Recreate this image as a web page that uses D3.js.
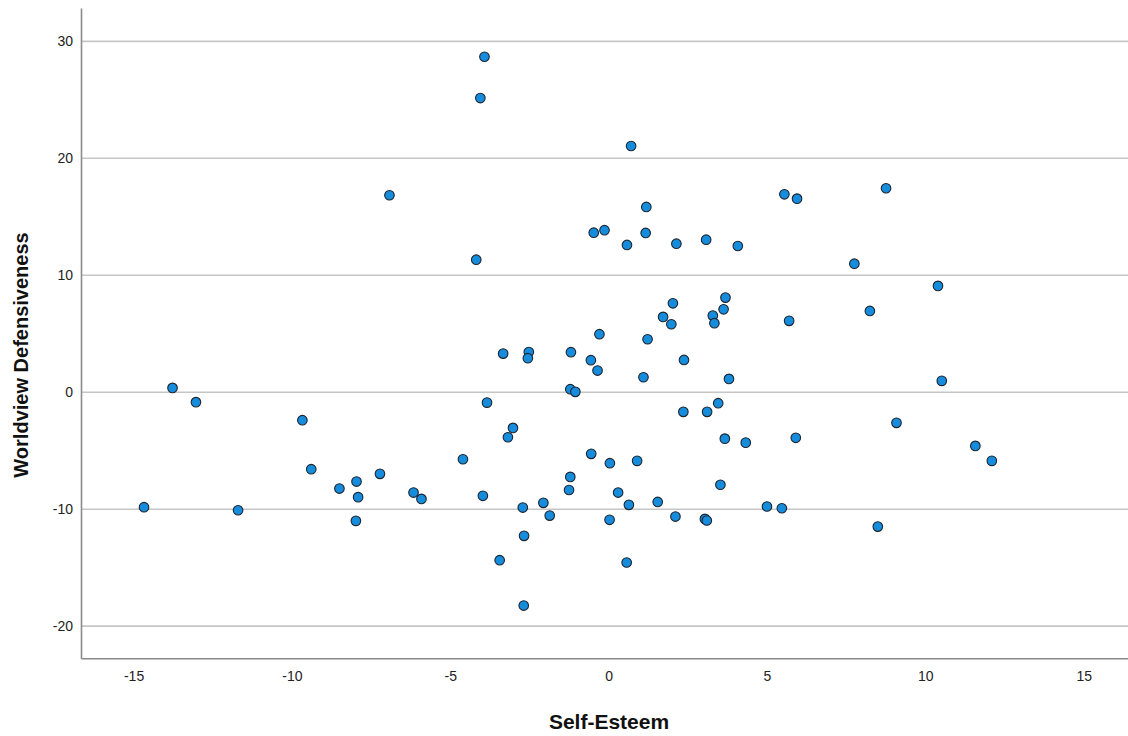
<!DOCTYPE html>
<html>
<head>
<meta charset="utf-8">
<script src="https://cdn.jsdelivr.net/npm/d3@7"></script>
<style>
  html, body { margin: 0; padding: 0; background: #ffffff; }
  svg { display: block; }
  text { font-family: "Liberation Sans", Arial, sans-serif; }
</style>
</head>
<body>
<svg id="chart" width="1128" height="736"></svg>
<script>
// Self-Esteem (x) values
const selfEsteem = [
  -3.92, -4.05, 0.71, -6.92, 5.55, 5.95, 8.76, 1.19, -0.47, -0.13,
  1.17, 0.58, 2.14, 3.08, 4.08, -4.18, 7.76, 10.40, 2.03, 3.69,
  3.63, 1.72, 1.98, 3.29, 3.34, 5.70, 8.25, -0.29, 1.23, -3.33,
  -2.52, -2.55, -1.19, -0.56, -0.35, 2.38, 1.10, 3.80, 10.52, -1.21,
  -1.05, -13.77, -13.03, -3.84, 3.46, 2.36, 3.11, -9.67, 9.09, -3.02,
  -3.18, 3.67, 4.33, 5.91, 11.58, 12.10, -4.60, -0.55, 0.04, 0.90,
  -9.39, -7.22, -7.96, -8.50, -7.91, -1.21, -1.25, 3.53, -6.16, -5.91,
  -3.97, 0.30, -2.06, -2.71, 0.64, 1.55, 5.00, 5.47, -14.67, -11.70,
  -1.86, 0.03, 2.11, 3.04, 3.10, -7.98, 8.50, -2.67, -3.44, 0.57,
  -2.68
];
// Worldview Defensiveness (y) values
const defensiveness = [
  28.68, 25.15, 21.05, 16.84, 16.92, 16.55, 17.44, 15.84, 13.64, 13.85,
  13.62, 12.59, 12.70, 13.04, 12.50, 11.33, 10.99, 9.09, 7.60, 8.09,
  7.09, 6.44, 5.81, 6.55, 5.90, 6.10, 6.95, 4.96, 4.53, 3.30,
  3.44, 2.91, 3.42, 2.74, 1.85, 2.76, 1.28, 1.14, 0.97, 0.26,
  0.03, 0.37, -0.85, -0.89, -0.94, -1.68, -1.68, -2.39, -2.62, -3.05,
  -3.85, -3.97, -4.31, -3.90, -4.59, -5.87, -5.73, -5.27, -6.07, -5.87,
  -6.58, -6.98, -7.64, -8.24, -8.97, -7.24, -8.36, -7.91, -8.58, -9.12,
  -8.86, -8.58, -9.46, -9.86, -9.63, -9.38, -9.77, -9.92, -9.83, -10.09,
  -10.55, -10.91, -10.63, -10.83, -10.97, -11.00, -11.49, -12.28, -14.36, -14.56,
  -18.24
];
const xTicks = [-15, -10, -5, 0, 5, 10, 15];
const yTicks = [-20, -10, 0, 10, 20, 30];
const xTitle = "Self-Esteem";
const yTitle = "Worldview Defensiveness";

const points = selfEsteem.map((v, i) => ({ x: v, y: defensiveness[i] }));

const svg = d3.select("#chart");
const plotLeft = 81, plotRight = 1128, plotTop = 8, plotBottom = 658.3;

const x = d3.scaleLinear().domain([-16.66, 16.4]).range([plotLeft, plotRight]);
const y = d3.scaleLinear().domain([-22.75, 32.85]).range([plotBottom, plotTop]);

// gridlines
svg.append("g")
  .selectAll("line")
  .data(yTicks)
  .join("line")
  .attr("x1", plotLeft).attr("x2", plotRight)
  .attr("y1", d => y(d)).attr("y2", d => y(d))
  .attr("stroke", "#c6c6c6")
  .attr("stroke-width", 1.6);

const fmt = d => String(d);

// y axis
const yAxis = svg.append("g")
  .attr("transform", `translate(${plotLeft},0)`)
  .call(d3.axisLeft(y).tickValues(yTicks).tickSize(0).tickPadding(8).tickFormat(fmt));
yAxis.select(".domain").attr("stroke", "#8a8a8a").attr("stroke-width", 1.6);
yAxis.selectAll("text").attr("font-size", 14).attr("fill", "#222").attr("font-family", "Liberation Sans, Arial, sans-serif");

// x axis
const xAxis = svg.append("g")
  .attr("transform", `translate(0,${plotBottom})`)
  .call(d3.axisBottom(x).tickValues(xTicks).tickSize(0).tickPadding(13).tickFormat(fmt));
xAxis.select(".domain").attr("stroke", "#8a8a8a").attr("stroke-width", 1.6);
xAxis.selectAll("text").attr("font-size", 14).attr("fill", "#222").attr("font-family", "Liberation Sans, Arial, sans-serif");

// points
svg.append("g")
  .selectAll("circle")
  .data(points)
  .join("circle")
  .attr("cx", d => x(d.x))
  .attr("cy", d => y(d.y))
  .attr("r", 4.8)
  .attr("fill", "#168cdd")
  .attr("stroke", "#1c2530")
  .attr("stroke-width", 1.1);

// titles
svg.append("text")
  .attr("x", 609).attr("y", 729)
  .attr("text-anchor", "middle")
  .attr("font-size", 21)
  .attr("font-weight", "bold")
  .attr("fill", "#111")
  .text(xTitle);

svg.append("text")
  .attr("transform", "translate(28,355) rotate(-90)")
  .attr("text-anchor", "middle")
  .attr("font-size", 20)
  .attr("font-weight", "bold")
  .attr("fill", "#111")
  .text(yTitle);
</script>
</body>
</html>
